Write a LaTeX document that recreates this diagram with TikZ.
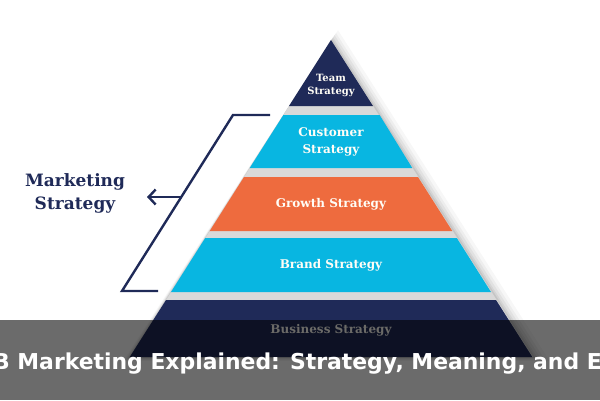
\documentclass[tikz,border=0pt]{standalone}
\usepackage{fontspec}
\setmainfont{DejaVu Serif}
\newfontfamily\titlefont{DejaVu Sans}
\usetikzlibrary{arrows.meta}
\definecolor{navy}{HTML}{1F2A58}
\definecolor{cyanL}{HTML}{08B6E1}
\definecolor{orangeL}{HTML}{EE6B3E}
\definecolor{gapgray}{HTML}{D9D9D9}
\definecolor{labelwhite}{HTML}{FFFDF6}
\tikzset{
  layerlabel/.style={text=labelwhite, font=\bfseries\fontsize{12}{17}\selectfont, align=center, inner sep=0pt},
  bracketline/.style={draw=navy, line width=2.4pt, line join=miter},
}
\begin{document}
\begin{tikzpicture}[x=1pt,y=-1pt]
\useasboundingbox (0,0) rectangle (600,400);
\clip (0,0) rectangle (600,400);
% soft shadow
\foreach \o/\op in {14/0.03,10/0.04,7/0.05,4/0.06,2/0.07}{
  \fill[black,opacity=\op] (331+\o*0.5,40-\o*0.7) -- (130-\o*0.5,357+\o*0.3) -- (533+\o*1.2,357+\o*0.3) -- cycle;
}
% gray silhouette (gaps)
\fill[gapgray] (331,40) -- (130,357) -- (533,357) -- cycle;
% layers
\fill[navy] (331,40) -- (289,106) -- (373,106) -- cycle;
\fill[cyanL] (283.4,115) -- (379.6,115) -- (412.3,168) -- (249.7,168) -- cycle;
\fill[orangeL] (244,177) -- (418,177) -- (452.3,231) -- (209.7,231) -- cycle;
\fill[cyanL] (205.2,238) -- (456.8,238) -- (491,292) -- (171,292) -- cycle;
\fill[navy] (166,300) -- (496,300) -- (532.3,357) -- (129.7,357) -- cycle;
% labels
\node[layerlabel, font=\bfseries\fontsize{10}{13}\selectfont] (team) at (331,85) {Team\\Strategy};
\node[layerlabel] (customer) at (331,142) {Customer\\Strategy};
\node[layerlabel] (growth) at (331,204) {Growth Strategy};
\node[layerlabel] (brand) at (331,265) {Brand Strategy};
\node[layerlabel] (business) at (331,330) {Business Strategy};
% bracket
\coordinate (bt1) at (270,115);
\coordinate (bt2) at (233,115);
\coordinate (bb2) at (122,291);
\coordinate (bb1) at (158,291);
\coordinate (bmid) at (181.5,197);
\coordinate (arrend) at (147,197);
\draw[bracketline] (bt1) -- (bt2) -- (bb2) -- (bb1);
\draw[draw=navy, line width=2.4pt, -{Straight Barb[length=7pt,width=15pt,line width=2.4pt]}] (bmid) -- (arrend);
\node[text=navy, font=\bfseries\fontsize{17}{23}\selectfont, align=center, inner sep=0pt] (mkt) at (75,193) {Marketing\\Strategy};
% overlay banner
\fill[black, opacity=0.58] (0,320) rectangle (600,400);
\node[text=white, font=\titlefont\bfseries\fontsize{21.9}{27}\selectfont, anchor=base west, inner sep=0pt] (title) at (-39,369) {B2B Marketing Explained: Strategy, Meaning, and Examples};
\end{tikzpicture}
\end{document}
